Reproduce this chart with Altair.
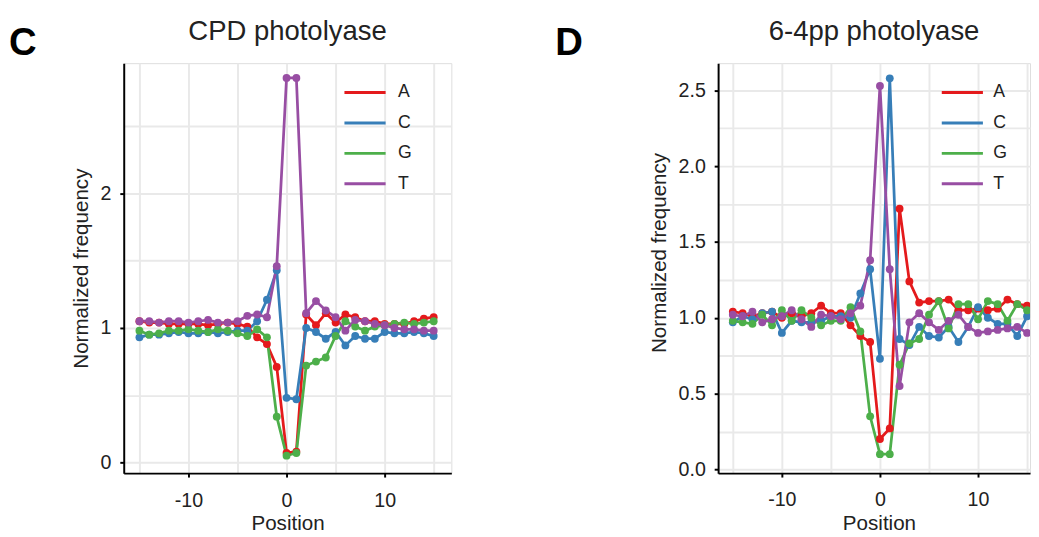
import altair as alt
import pandas as pd

positions = list(range(-15, 16))
bases = ["A", "C", "G", "T"]
base_colors = ["#E41A1C", "#377EB8", "#4DAF4A", "#984EA3"]

# CPD photolyase (panel C)
cpd_A = [1.05, 1.04, 1.04, 1.03, 1.03, 1.03, 1.03, 1.02, 1.03, 1.04, 1.03,
         1.01, 0.93, 0.88, 0.71, 0.07, 0.08, 1.10, 1.02, 1.11, 1.04, 1.10,
         1.08, 1.05, 1.05, 1.03, 1.03, 1.03, 1.05, 1.07, 1.08]
cpd_C = [0.93, 0.95, 0.95, 0.96, 0.97, 0.96, 0.96, 0.97, 0.96, 0.97, 0.98,
         0.98, 1.05, 1.21, 1.43, 0.48, 0.47, 1.00, 0.97, 0.92, 0.97, 0.87,
         0.94, 0.92, 0.92, 0.97, 0.96, 0.96, 0.97, 0.96, 0.94]
cpd_G = [0.98, 0.95, 0.96, 0.98, 0.98, 0.99, 0.98, 0.97, 0.99, 0.98, 0.96,
         0.94, 0.99, 0.93, 0.34, 0.05, 0.07, 0.72, 0.75, 0.78, 0.94, 1.05,
         1.01, 0.98, 1.01, 1.02, 1.03, 1.04, 1.03, 1.04, 1.05]
cpd_T = [1.05, 1.05, 1.04, 1.05, 1.05, 1.04, 1.05, 1.06, 1.04, 1.04, 1.05,
         1.09, 1.10, 1.08, 1.46, 2.86, 2.86, 1.11, 1.20, 1.13, 1.08, 0.98,
         1.06, 1.05, 1.03, 1.02, 1.00, 0.99, 0.99, 0.98, 0.98]

# 6-4pp photolyase (panel D)
pp_A = [1.04, 1.03, 1.01, 1.03, 1.04, 1.00, 1.03, 1.01, 1.03, 1.08, 1.03,
        1.03, 0.95, 0.88, 0.84, 0.20, 0.27, 1.72, 1.24, 1.10, 1.11, 1.11,
        1.12, 1.05, 1.05, 1.06, 1.05, 1.06, 1.12, 1.09, 1.08]
pp_C = [0.97, 1.01, 0.99, 1.03, 1.04, 0.90, 0.98, 0.97, 0.97, 0.98, 1.01,
        1.01, 1.00, 1.16, 1.32, 0.73, 2.58, 0.86, 0.82, 0.94, 0.88, 0.87,
        0.94, 0.84, 0.94, 1.07, 1.00, 0.96, 0.96, 0.88, 1.01]
pp_G = [0.98, 0.97, 0.96, 1.02, 0.95, 1.05, 0.98, 1.05, 1.00, 0.95, 0.98,
        0.98, 1.07, 0.91, 0.35, 0.10, 0.10, 0.69, 0.83, 0.86, 1.02, 1.11,
        0.93, 1.09, 1.09, 0.99, 1.11, 1.09, 0.98, 1.09, 1.05]
pp_T = [1.02, 1.01, 1.04, 0.97, 0.99, 1.01, 1.05, 0.99, 0.94, 1.02, 1.01,
        0.99, 1.03, 1.08, 1.38, 2.53, 1.32, 0.55, 0.97, 1.03, 0.97, 0.92,
        0.98, 1.02, 0.94, 0.90, 0.91, 0.92, 0.93, 0.94, 0.90]

x_tick_values = [-15, -10, -5, 0, 5, 10, 15]
cpd_y_tick_values = [0, 0.5, 1, 1.5, 2, 2.5]
pp_y_tick_values = [0, 0.25, 0.5, 0.75, 1, 1.25, 1.5, 1.75, 2, 2.25, 2.5]

FONT = "Liberation Sans"
TXT = "#222222"
GRID = "#e9e9e9"


def long_df(series):
    rows = []
    for b, vals in zip(bases, series):
        for p, v in zip(positions, vals):
            rows.append({"Position": p, "Base": b, "Normalized frequency": v})
    return pd.DataFrame(rows)


def axis_style(**kw):
    base = dict(
        domainColor="#000000", domainWidth=2, tickColor="#000000", tickWidth=2,
        tickSize=4, labelFont=FONT, labelFontSize=20, labelColor=TXT,
        titleFont=FONT, titleFontSize=21, titleFontWeight="normal", titleColor=TXT,
        gridColor=GRID, gridWidth=2, grid=True,
    )
    base.update(kw)
    return alt.Axis(**base)


def panel(series, title, letter, xdom, ydom, width, yvals, ylabel_expr, ytick_test,
          x_label_pad, x_title_pad, y_title_y, x_title_x, legend_x, legend_label_off,
          letter_x, clip):
    df = long_df(series)
    x_axis = axis_style(
        values=x_tick_values,
        labelExpr="datum.value % 10 === 0 ? toString(datum.value) : ''",
        tickOpacity={"condition": {"test": "datum.value % 10 === 0", "value": 1}, "value": 0},
        labelPadding=x_label_pad, titlePadding=x_title_pad, title="Position",
        **({"titleX": x_title_x} if x_title_x is not None else {}),
    )
    y_axis = axis_style(
        values=yvals, labelExpr=ylabel_expr,
        tickOpacity={"condition": {"test": ytick_test, "value": 1}, "value": 0},
        labelPadding=9, titlePadding=9, title="Normalized frequency",
        **({"titleY": y_title_y} if y_title_y is not None else {}),
    )
    x = alt.X("Position:Q", scale=alt.Scale(domain=xdom, nice=False, zero=False), axis=x_axis)
    y = alt.Y("Normalized frequency:Q", scale=alt.Scale(domain=ydom, nice=False, zero=False), axis=y_axis)
    legend = alt.Legend(
        title=None, orient="none", legendX=legend_x, legendY=21,
        symbolType="M-4,0H4", symbolSize=110, symbolStrokeWidth=3, symbolOpacity=1,
        labelFont=FONT, labelFontSize=18, labelColor=TXT, rowPadding=13,
        padding=0, labelOffset=legend_label_off,
    )
    color_scale = alt.Scale(domain=bases, range=base_colors)
    lines = alt.Chart(df).mark_line(strokeWidth=2.8, clip=clip).encode(
        x=x, y=y, color=alt.Color("Base:N", scale=color_scale, legend=legend),
        order="Position:Q",
    )
    pts = alt.Chart(df).mark_circle(size=64, opacity=1, clip=clip).encode(
        x=x, y=y, color=alt.Color("Base:N", scale=color_scale, legend=None),
    )
    lab = alt.Chart(pd.DataFrame({"panel": [letter]})).mark_text(
        font=FONT, fontSize=39, fontWeight="bold", align="left", baseline="alphabetic",
        color="#000000",
    ).encode(text="panel:N", x=alt.value(letter_x), y=alt.value(-8))
    ttl = alt.Chart(pd.DataFrame({"title": [title]})).mark_text(
        font=FONT, fontSize=28, align="center", baseline="alphabetic", color=TXT,
    ).encode(text="title:N", x=alt.value(width / 2), y=alt.value(-24))
    return alt.layer(lines, pts, lab, ttl).properties(width=width, height=418)


left = panel([cpd_A, cpd_C, cpd_G, cpd_T], "CPD photolyase", "C",
             [-16.6, 16.8], [-0.08, 2.97], 334, cpd_y_tick_values,
             "datum.value % 1 === 0 ? toString(datum.value) : ''",
             "datum.value % 1 === 0", 14, 2, None, None, 237, 24.5, -117, False)
right = panel([pp_A, pp_C, pp_G, pp_T], "6-4pp photolyase", "D",
              [-16.5, 15.3], [-0.025, 2.68], 318, pp_y_tick_values,
              "datum.value % 0.5 === 0 ? format(datum.value, '.1f') : ''",
              "datum.value % 0.5 === 0", 13, 3, 193, 164, 240, 22.5, -166, True)

chart = alt.hconcat(left, right, spacing=104).resolve_scale(
    color="independent", x="independent", y="independent"
).properties(
    padding={"left": 0, "top": 4, "right": 0, "bottom": 4}
).configure_view(strokeWidth=0).configure(background="white")

chart.save("out.html", embed_options={"renderer": "svg", "actions": False})
